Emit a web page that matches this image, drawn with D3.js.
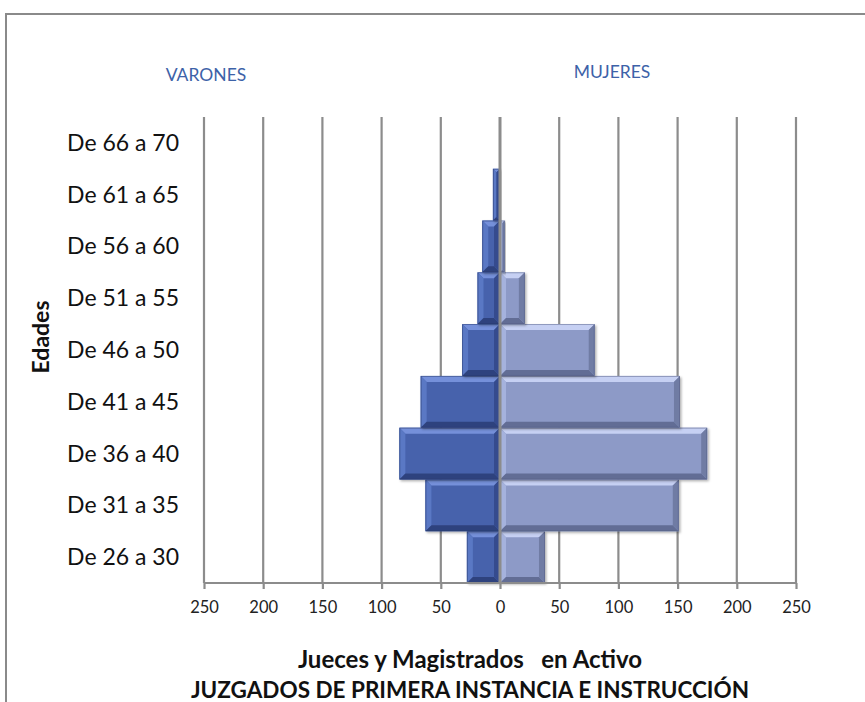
<!DOCTYPE html>
<html><head><meta charset="utf-8">
<script src="https://cdn.jsdelivr.net/npm/d3@7"></script>
<style>html,body{margin:0;padding:0;background:#fff;}svg{display:block;}</style>
</head><body>
<script>
const categories = ["De 26 a 30","De 31 a 35","De 36 a 40","De 41 a 45","De 46 a 50","De 51 a 55","De 56 a 60","De 61 a 65","De 66 a 70"];
const varones = [28, 63, 85, 67, 32, 19, 15, 6, 0];
const mujeres = [38, 151, 175, 152, 80, 21, 4, 0, 0];
const tickValues = [-250,-200,-150,-100,-50,0,50,100,150,200,250];
const seriesNames = ["VARONES","MUJERES"];
const axisTitle1 = "Jueces y Magistrados   en Activo";
const axisTitle2 = "JUZGADOS DE PRIMERA INSTANCIA E INSTRUCCIÓN";
const yTitle = "Edades";

const W = 865, H = 702;
const margin = {left: 204, right: 69, top: 117, bottom: 119};
const svg = d3.select("body").append("svg").attr("width", W).attr("height", H);
const font = "Lato, 'Open Sans', sans-serif";

// outer frame
svg.append("rect").attr("x", 6).attr("y", 14).attr("width", W + 20).attr("height", H + 20)
  .attr("fill", "none").attr("stroke", "#8a8a8a").attr("stroke-width", 2);

const x = d3.scaleLinear().domain([-250, 250]).range([margin.left, W - margin.right]);
const y = d3.scaleBand().domain(categories.slice().reverse()).range([margin.top, H - margin.bottom]).padding(0);

// gridlines
svg.append("g").selectAll("line").data(tickValues.filter(d => d !== 0)).join("line")
  .attr("x1", d => x(d)).attr("x2", d => x(d))
  .attr("y1", margin.top).attr("y2", H - margin.bottom)
  .attr("stroke", "#8c8c8c").attr("stroke-width", 2.2);

const defs = svg.append("defs");
const f = defs.append("filter").attr("id", "sh").attr("x", "-10%").attr("y", "-10%").attr("width", "130%").attr("height", "130%");
f.append("feDropShadow").attr("dx", 1.5).attr("dy", 1.5).attr("stdDeviation", 1.2).attr("flood-color", "#000").attr("flood-opacity", 0.3);

const palettes = {
  m: {base: "#4762ac", top: "#7590da", left: "#5a78c4", bottom: "#2f437e", right: "#364c8e", stroke: "#2a3a6e"},
  w: {base: "#8d9ac7", top: "#c6d0f3", left: "#a5b2dd", bottom: "#626d95", right: "#6f7ba4", stroke: "#555f84"}
};

function bevelBar(g, x0, x1, y0, y1, p) {
  const w = x1 - x0, h = y1 - y0;
  if (w <= 0) return;
  const b = Math.min(6, w / 2, h / 2);
  const gg = g.append("g").attr("filter", "url(#sh)");
  gg.append("rect").attr("x", x0).attr("y", y0).attr("width", w).attr("height", h).attr("fill", p.base);
  const poly = (pts, fill) => gg.append("polygon").attr("points", pts.map(q => q.join(",")).join(" ")).attr("fill", fill);
  poly([[x0,y0],[x1,y0],[x1-b,y0+b],[x0+b,y0+b]], p.top);
  poly([[x0,y0],[x0+b,y0+b],[x0+b,y1-b],[x0,y1]], p.left);
  poly([[x0,y1],[x0+b,y1-b],[x1-b,y1-b],[x1,y1]], p.bottom);
  poly([[x1,y0],[x1,y1],[x1-b,y1-b],[x1-b,y0+b]], p.right);
  gg.append("rect").attr("x", x0 + 0.5).attr("y", y0 + 0.5).attr("width", w - 1).attr("height", h - 1)
    .attr("fill", "none").attr("stroke", p.stroke).attr("stroke-width", 0.8).attr("stroke-opacity", 0.6);
}

const bars = svg.append("g");
categories.forEach((c, i) => {
  const y0 = y(c), y1 = y(c) + y.bandwidth();
  bevelBar(bars, x(-varones[i]), x(0), y0, y1, palettes.m);
  bevelBar(bars, x(0), x(mujeres[i]), y0, y1, palettes.w);
});

// zero axis line on top
svg.append("line").attr("x1", x(0)).attr("x2", x(0)).attr("y1", margin.top).attr("y2", H - margin.bottom)
  .attr("stroke", "#8c8c8c").attr("stroke-width", 3);

// bottom axis
const xAxis = d3.axisBottom(x).tickValues(tickValues).tickFormat(d => Math.abs(d)).tickSize(6).tickPadding(12);
const ax = svg.append("g").attr("transform", `translate(0,${H - margin.bottom})`).call(xAxis);
ax.select(".domain").attr("stroke", "#8c8c8c").attr("stroke-width", 2.2).attr("d", `M${x(-250)},0H${x(250)}`);
ax.selectAll(".tick line").attr("stroke", "#8c8c8c").attr("stroke-width", 2.2);
ax.selectAll(".tick text").attr("font-family", font).attr("font-size", 16.5).attr("fill", "#222");

// category labels
svg.append("g").selectAll("text").data(categories).join("text")
  .attr("x", 179).attr("y", d => y(d) + y.bandwidth() / 2)
  .attr("dy", "0.35em").attr("text-anchor", "end")
  .attr("font-family", font).attr("font-size", 23).attr("fill", "#111")
  .text(d => d);

// y title
svg.append("text").attr("transform", `translate(49,337) rotate(-90)`).attr("text-anchor", "middle")
  .attr("font-family", font).attr("font-weight", "bold").attr("font-size", 23).attr("fill", "#111").text(yTitle);

// series labels
svg.append("text").attr("x", 206).attr("y", 81).attr("text-anchor", "middle")
  .attr("font-family", font).attr("font-size", 17.5).attr("fill", "#3d62a8").text(seriesNames[0]);
svg.append("text").attr("x", 612).attr("y", 78).attr("text-anchor", "middle")
  .attr("font-family", font).attr("font-size", 17.5).attr("fill", "#3d62a8").text(seriesNames[1]);

// axis titles
svg.append("text").attr("x", 470).attr("y", 668).attr("text-anchor", "middle").attr("xml:space", "preserve")
  .style("white-space", "pre")
  .attr("font-family", font).attr("font-weight", "bold").attr("font-size", 24).attr("fill", "#111").text(axisTitle1);
svg.append("text").attr("x", 470).attr("y", 698).attr("text-anchor", "middle")
  .attr("font-family", font).attr("font-weight", "bold").attr("font-size", 22.5).attr("fill", "#111").text(axisTitle2);
</script>
</body></html>
